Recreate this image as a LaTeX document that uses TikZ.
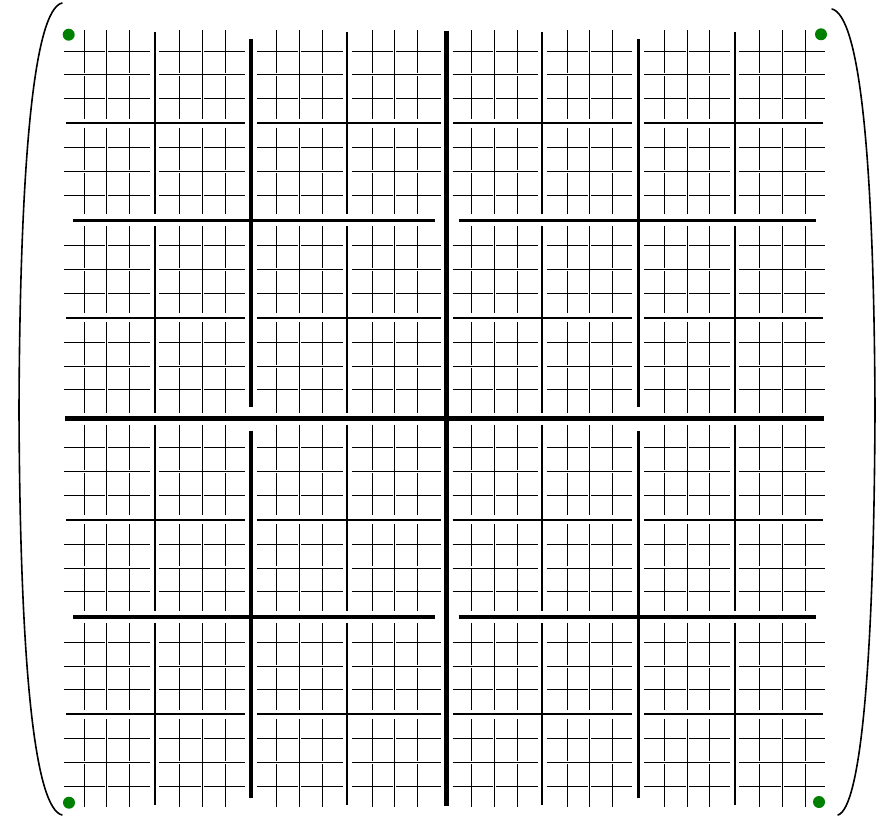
\documentclass[tikz,border=0pt]{standalone}
\begin{document}
\begin{tikzpicture}[x=1pt,y=-1pt,line join=round,
  declare function={
    st(\t,\q)=(\t>\q)+0.5*(\t==\q);
    gx(\t)=61.25+22.75*\t+8.5*st(\t,16)+2*(\t==16)+6.15*(st(\t,8)+st(\t,24))+4.5*(st(\t,4)+st(\t,12)+st(\t,20)+st(\t,28));
    gy(\t)=27.2+23.8*\t+10.1*st(\t,16)+2.85*(st(\t,8)+st(\t,24))+1.4*(st(\t,4)+st(\t,12)+st(\t,20)+st(\t,28));
    gap(\t)=((\t==0)||(\t==32)) ? 3 : ((mod(\t,8)==0) ? 6 : ((mod(\t,4)==0) ? 4.5 : 1.5));
  }]
\useasboundingbox (0,0) rectangle (892,818);

% 分块网格：\h 为半块大小，\w 为线宽，\m 为端点收缩
\foreach \h/\w/\m in {1/0.9/1.5, 2/0.9/2.5, 4/2/5, 8/3.6/12, 16/4.8/4}{
  \pgfmathtruncatemacro\n{16/\h-1}
  \foreach \i in {0,...,\n}{
    \foreach \j in {0,...,\n}{
      \pgfmathsetmacro\k{(2*\i+1)*\h}
      \pgfmathsetmacro\pa{2*\h*\j}
      \pgfmathsetmacro\pb{2*\h*(\j+1)}
      \pgfmathsetmacro\sa{max(\m,gap(\pa))}
      \pgfmathsetmacro\sb{max(\m,gap(\pb))}
      \draw[line width=\w pt] ({gx(\pa)+\sa},{gy(\k)}) -- ({gx(\pb)-\sb},{gy(\k)});
      \draw[line width=\w pt] ({gx(\k)},{gy(\pa)+\sa}) -- ({gx(\k)},{gy(\pb)-\sb});
    }
  }
}

% 左右括号
\draw[line width=1.6pt,line cap=round] (62,3) .. controls (35,10) and (20,150) .. (19,410)
  .. controls (20,670) and (35,808) .. (62,815);
\draw[line width=1.6pt,line cap=round] (832,9) .. controls (859,16) and (874,150) .. (875,410)
  .. controls (874,670) and (860,808) .. (838,815);

\coordinate (TL) at (68.7,34.7);
\coordinate (TR) at (821,34.3);
\coordinate (BL) at (69,802.7);
\coordinate (BR) at (819,802);

\fill[green!50!black] (TL) circle (6pt);
\fill[green!50!black] (TR) circle (6pt);
\fill[green!50!black] (BL) circle (6pt);
\fill[green!50!black] (BR) circle (6pt);
\end{tikzpicture}
\end{document}
